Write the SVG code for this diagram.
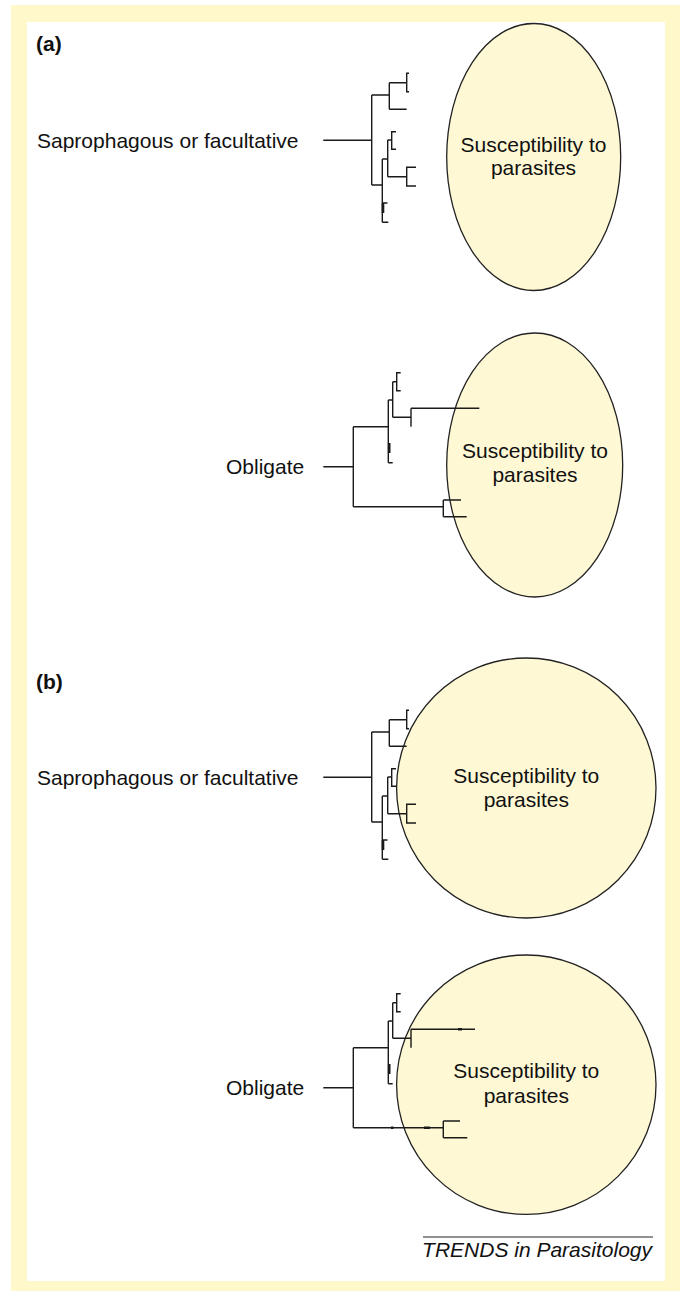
<svg xmlns="http://www.w3.org/2000/svg" width="680" height="1291" viewBox="0 0 680 1291">
<style>
.lbl{font-family:"Liberation Sans",Arial,sans-serif;font-size:21px;fill:#111}
.hd{font-family:"Liberation Sans",Arial,sans-serif;font-size:21px;font-weight:bold;fill:#111}
.in{font-family:"Liberation Sans",Arial,sans-serif;font-size:21px;fill:#111;text-anchor:middle}
.ft{font-family:"Liberation Sans",Arial,sans-serif;font-size:21px;font-style:italic;fill:#111;text-anchor:end}
.ell{fill:#FFF8D4;stroke:#222;stroke-width:1.3}
.tr{fill:none;stroke:#1a1a1a;stroke-width:1.4}
.tk{fill:none;stroke:#1a1a1a;stroke-width:2.6}
</style>
<defs>
<g id="treeA">
<path class="tr" d="M323.3 140.3H371.7M371.7 95V185M371.7 95H389.3M389.3 82.7V109.3M389.3 82.7H406.7M409 73.3H406.7V91.7H409M389.3 109.3H406.7M371.7 185H382.3M382.3 159V222.3M382.3 159H387.7M387.7 140V176.7M387.7 140H391.7M396 131.7H391.7V149.3H396M387.7 176.7H406.7M416 167.3H406.7V186H416M382.3 203H387.5M382.3 222.3H388.3"/>
<path class="tk" d="M383 203V213"/>
</g>
</defs>
<g id="frame">
<rect x="11" y="5" width="669" height="1286" fill="#FFF8CA"/>
<rect x="27" y="22" width="638" height="1259" fill="#FFFFFF"/>
</g>
<g id="panel-a">
<text class="hd" x="36" y="50.5">(a)</text>
<g id="a-sapro-label"><text class="lbl" x="37" y="147.5">Saprophagous or facultative</text></g>
<g id="a-sapro-ellipse">
<ellipse class="ell" cx="533.7" cy="157" rx="87" ry="133.5"/>
<text class="in" x="533.5" y="151.7">Susceptibility to</text>
<text class="in" x="533.5" y="175">parasites</text>
</g>
<g id="a-obl-label"><text class="lbl" x="226" y="474">Obligate</text></g>
<g id="a-obl-ellipse">
<ellipse class="ell" cx="534.7" cy="465" rx="88" ry="132"/>
<text class="in" x="535" y="457.7">Susceptibility to</text>
<text class="in" x="535" y="481.7">parasites</text>
</g>
</g>
<g id="panel-b">
<text class="hd" x="36" y="689">(b)</text>
<g id="b-sapro-label"><text class="lbl" x="37" y="784.5">Saprophagous or facultative</text></g>
<g id="b-sapro-circle">
<ellipse class="ell" cx="526.3" cy="788" rx="129.7" ry="130"/>
<text class="in" x="526.3" y="782.7">Susceptibility to</text>
<text class="in" x="526.3" y="806.7">parasites</text>
</g>
<g id="b-obl-label"><text class="lbl" x="226" y="1095">Obligate</text></g>
<g id="b-obl-circle">
<ellipse class="ell" cx="526.3" cy="1084.7" rx="129.7" ry="129.7"/>
<text class="in" x="526.3" y="1078.3">Susceptibility to</text>
<text class="in" x="526.3" y="1103.3">parasites</text>
</g>
</g>
<g id="connectors">
<use href="#treeA"/>
<g id="tree-a-obligate">
<path class="tr" d="M323.3 466.7H353.3M353.3 426.7V506.7M353.3 426.7H388.3M388.3 400V462.7M388.3 400H392.7M392.7 381.7V417.3M392.7 381.7H396.7M400.7 372.7H396.7V390.7H400.7M392.7 417.3H411M411 408.3V426.7M411 408.3H479.3M388.3 462.7H392.7M353.3 506.7H443.3M443.3 500V516.7M443.3 500H461M443.3 516.7H466.7"/>
<path class="tk" d="M389.2 443V453"/>
</g>
<use href="#treeA" transform="translate(0 637)"/>
<g id="tree-b-obligate">
<path class="tr" d="M323.3 1087.7H353.3M353.3 1047.7V1127.7M353.3 1047.7H388.3M388.3 1021V1083.7M388.3 1021H392.7M392.7 1002.7V1038.3M392.7 1002.7H396.7M400.7 993.7H396.7V1011.7H400.7M392.7 1038.3H411M411 1029.3V1047.7M411 1029.3H475M388.3 1083.7H392.7M353.3 1127.7H443.3M443.3 1121V1137.7M443.3 1121H460M443.3 1137.7H467.3"/>
<path class="tk" d="M389.2 1064V1074M391 1127.7H393.5M424 1127.7H430M458 1029.3H462"/>
</g>
</g>
<g id="footer">
<line x1="423" y1="1237" x2="653" y2="1237" stroke="#222" stroke-width="1.2"/>
<text class="ft" x="652" y="1257">TRENDS in Parasitology</text>
</g>
</svg>
